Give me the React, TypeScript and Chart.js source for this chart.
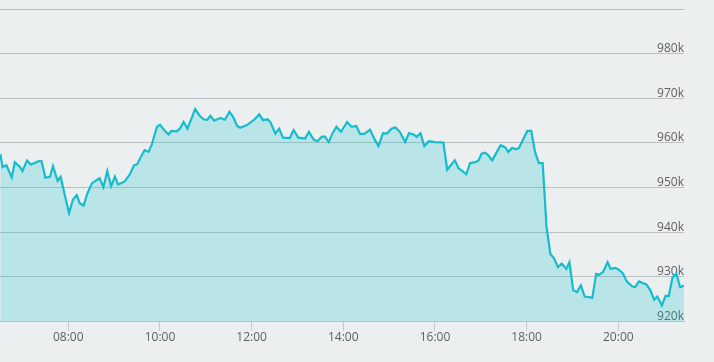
import React, { useEffect, useRef } from "react";
import { Chart, registerables } from "chart.js";

Chart.register(...registerables);

// minutes after midnight
const times = [
  391, 394, 399, 406, 410, 417, 420, 426, 431, 436,
  442, 445, 450, 456, 460, 466, 470, 476, 481, 486,
  491, 495, 500, 505, 511, 521, 526, 531, 536, 541,
  545, 554, 561, 566, 570, 576, 580, 585, 589, 596,
  600, 605, 611, 615, 622, 626, 631, 636, 642, 646,
  652, 657, 662, 666, 671, 679, 685, 691, 696, 701,
  705, 714, 724, 730, 735, 741, 745, 751, 756, 761,
  770, 775, 781, 790, 795, 801, 806, 812, 816, 821,
  826, 831, 837, 845, 851, 857, 862, 868, 875, 881,
  886, 892, 897, 903, 908, 914, 921, 926, 932, 936,
  941, 946, 952, 960, 971, 976, 986, 991, 996, 1001,
  1006, 1013, 1017, 1021, 1026, 1030, 1035, 1041, 1046, 1052,
  1056, 1061, 1066, 1070, 1076, 1081, 1086, 1091, 1096, 1101,
  1106, 1111, 1116, 1121, 1126, 1132, 1136, 1141, 1146, 1151,
  1156, 1161, 1166, 1171, 1175, 1180, 1186, 1190, 1196, 1201,
  1206, 1211, 1218, 1222, 1227, 1234, 1237, 1242, 1247, 1251,
  1257, 1262, 1266, 1271, 1276, 1281, 1286,
];

// values in thousands
const values = [
  957.5, 954.6, 955.0, 952.3, 955.7, 954.6, 953.7, 956.1, 955.2, 955.5,
  956.0, 955.9, 952.2, 952.4, 954.8, 951.5, 952.4, 947.9, 944.3, 947.3,
  948.3, 946.5, 946.0, 948.7, 951.0, 952.1, 950.1, 953.7, 950.3, 952.5,
  950.7, 951.4, 953.1, 955.0, 955.2, 957.2, 958.4, 958.0, 959.5, 963.6,
  964.1, 963.0, 961.9, 962.7, 962.6, 963.2, 964.7, 963.2, 965.8, 967.6,
  966.1, 965.3, 965.2, 966.1, 965.0, 965.6, 965.2, 967.0, 965.8, 963.8,
  963.4, 964.0, 965.3, 966.4, 965.1, 965.3, 964.5, 962.1, 963.2, 961.2,
  961.1, 962.9, 961.2, 961.0, 962.5, 960.8, 960.4, 961.4, 961.4, 960.2,
  962.2, 963.6, 962.5, 964.7, 963.6, 963.8, 962.0, 962.1, 963.0, 960.8,
  959.3, 962.2, 962.1, 963.2, 963.5, 962.5, 960.2, 962.2, 961.9, 961.4,
  962.2, 959.3, 960.4, 960.2, 960.1, 954.0, 956.1, 954.3, 953.7, 953.0,
  955.5, 955.7, 956.1, 957.6, 957.8, 957.2, 956.1, 958.0, 959.5, 959.0,
  958.0, 958.9, 958.6, 958.9, 961.0, 962.7, 962.7, 958.0, 955.5, 955.5,
  941.2, 935.2, 934.1, 932.2, 933.0, 931.8, 933.3, 927.0, 926.6, 928.1,
  925.6, 925.5, 925.3, 930.7, 930.5, 931.1, 933.3, 931.8, 932.0, 931.6,
  930.8, 929.0, 927.9, 927.7, 929.0, 928.5, 928.3, 927.0, 924.9, 925.6,
  923.6, 925.8, 925.7, 929.9, 930.7, 927.7, 928.1,
];

const hourTicks = [480, 600, 720, 840, 960, 1080, 1200];
const yMin = 920;
const yMax = 990;
const yStep = 10;

function fmtTime(m: number): string {
  const h = Math.floor(m / 60);
  const mm = Math.round(m % 60);
  return `${String(h).padStart(2, "0")}:${String(mm).padStart(2, "0")}`;
}

export default function App() {
  const ref = useRef<HTMLCanvasElement | null>(null);

  useEffect(() => {
    document.body.style.margin = "0";
    document.body.style.background = "#eceff0";
    if (!ref.current) return;
    const font = { family: "'Open Sans', sans-serif", size: 12 };
    const chart = new Chart(ref.current, {
      type: "line",
      data: {
        datasets: [
          {
            data: times.map((t, i) => ({ x: t, y: values[i] })),
            borderColor: "#17bccc",
            backgroundColor: "rgba(4,198,208,0.22)",
            borderWidth: 2.2,
            pointRadius: 0,
            tension: 0,
            fill: "start",
          },
        ],
      },
      options: {
        animation: false,
        responsive: true,
        maintainAspectRatio: false,
        layout: { padding: { top: 9, right: 30, left: 0, bottom: 17 } },
        plugins: { legend: { display: false }, tooltip: { enabled: false } },
        scales: {
          x: {
            type: "linear",
            min: 390.6,
            max: 1286,
            afterBuildTicks: (scale: any) => {
              scale.ticks = hourTicks.map((v) => ({ value: v }));
            },
            ticks: {
              callback: (v: any) => fmtTime(Number(v)),
              color: "#5f5f5f",
              font,
              padding: 0,
              maxRotation: 0,
              autoSkip: false,
            },
            grid: {
              drawOnChartArea: false,
              drawTicks: true,
              tickLength: 9,
              color: "#c3cbcf",
            },
            border: { display: true, color: "#bcc3c6" },
          },
          y: {
            position: "right",
            min: yMin,
            max: yMax,
            ticks: {
              stepSize: yStep,
              mirror: true,
              padding: 0,
              labelOffset: -5,
              color: "#5f5f5f",
              font,
              callback: (v: any) => (Number(v) === yMax ? "" : `${v}k`),
            },
            grid: { color: "#bdbfc0", drawTicks: false },
            border: { display: false },
          },
        },
      },
    });
    return () => chart.destroy();
  }, []);

  return (
    <div style={{ width: 714, height: 362, position: "relative" }}>
      <canvas ref={ref} />
    </div>
  );
}
